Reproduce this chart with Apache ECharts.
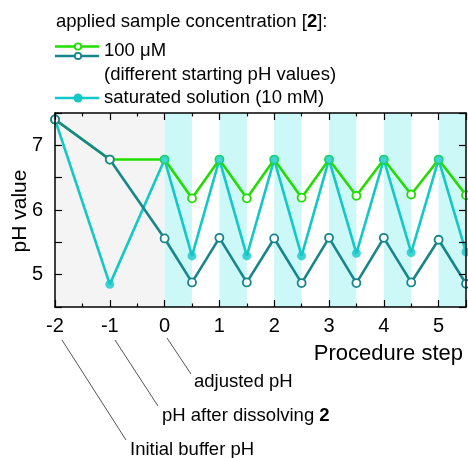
<!DOCTYPE html>
<html>
<head>
<meta charset="utf-8">
<script src="https://cdn.jsdelivr.net/npm/echarts@6/dist/echarts.min.js"></script>
<style>
  html, body { margin: 0; padding: 0; background: #fff; }
  #chart { width: 468px; height: 458px; }
</style>
</head>
<body>
<div id="chart"></div>
<script>
// Procedure steps (x) and measured pH for each sample series
const steps = [-2, -1, 0, 0.5, 1, 1.5, 2, 2.5, 3, 3.5, 4, 4.5, 5, 5.5];
const ph100uM = [7.4, 6.78, 6.78, 6.18, 6.78, 6.18, 6.78, 6.19, 6.78, 6.22, 6.78, 6.24, 6.78, 6.23];
const ph100uMLow = [7.4, 6.78, 5.56, 4.88, 5.57, 4.88, 5.56, 4.87, 5.57, 4.87, 5.57, 4.88, 5.54, 4.86];
const phSaturated = [7.4, 4.85, 6.78, 5.29, 6.78, 5.29, 6.78, 5.29, 6.78, 5.33, 6.78, 5.34, 6.78, 5.35];

// Shaded procedure intervals
const preparationSpan = [-2, 0];
const shadedStarts = [0, 1, 2, 3, 4, 5];
const shadedWidth = 0.5;

const GREEN = '#22dd00';
const TEAL = '#17868a';
const CYAN = '#14c8c8';
const FONT = 'Liberation Sans, Arial, sans-serif';

const pairs = (ys) => steps.map((x, i) => [x, ys[i]]);

const bands = [[{ xAxis: preparationSpan[0], itemStyle: { color: '#f4f4f4' } }, { xAxis: preparationSpan[1] }]]
  .concat(shadedStarts.map(s => [{ xAxis: s, itemStyle: { color: '#ccf8f8' } }, { xAxis: s + shadedWidth }]));

const chart = echarts.init(document.getElementById('chart'), null, { renderer: 'canvas' });

const xBase = {
  type: 'value', min: -2, max: 5.5, interval: 1, z: 10,
  axisLine: { show: true, onZero: false, lineStyle: { color: '#000', width: 1.5 } },
  axisTick: { show: true, inside: true, length: 7, lineStyle: { color: '#000', width: 1.2 } },
  minorTick: { show: true, splitNumber: 2, length: 3.5, lineStyle: { color: '#000', width: 1.2 } },
  splitLine: { show: false }, minorSplitLine: { show: false }
};
const yBase = {
  type: 'value', min: 4.5, max: 7.5, interval: 0.5, z: 10,
  axisLine: { show: true, onZero: false, lineStyle: { color: '#000', width: 1.5 } },
  axisTick: { show: true, inside: true, length: 7, lineStyle: { color: '#000', width: 1.2 } },
  splitLine: { show: false }
};

const option = {
  animation: false,
  backgroundColor: '#fff',
  grid: { left: 55, right: 2, top: 113, bottom: 151, containLabel: false, outerBoundsMode: 'none' },
  xAxis: [
    Object.assign({}, xBase, {
      position: 'bottom',
      axisLabel: {
        show: true, fontSize: 20, fontFamily: FONT, color: '#000', margin: 9,
        showMaxLabel: false,
        formatter: v => (Number.isInteger(v) ? String(v) : '')
      }
    }),
    Object.assign({}, xBase, { position: 'top', axisLabel: { show: false } })
  ],
  yAxis: [
    Object.assign({}, yBase, {
      position: 'left',
      axisLabel: {
        show: true, fontSize: 20, fontFamily: FONT, color: '#000', margin: 12,
        formatter: v => (Number.isInteger(v) ? String(v) : '')
      }
    }),
    Object.assign({}, yBase, { position: 'right', axisLabel: { show: false } })
  ],
  series: [
    {
      type: 'line', name: 'saturated solution (10 mM)', data: pairs(phSaturated), z: 2,
      showSymbol: false, symbol: 'none',
      lineStyle: { color: CYAN, width: 2.6 },
      markArea: { silent: true, data: bands }
    },
    {
      type: 'line', name: '100 μM', data: pairs(ph100uM), z: 3,
      symbol: 'circle', symbolSize: 8, showSymbol: true,
      lineStyle: { color: GREEN, width: 2.6 },
      itemStyle: { color: '#fff', borderColor: GREEN, borderWidth: 1.8 }
    },
    {
      type: 'scatter', name: 'saturated markers', data: pairs(phSaturated), z: 4,
      symbol: 'circle', symbolSize: 9,
      itemStyle: { color: CYAN }
    },
    {
      type: 'line', name: '100 μM (different starting pH)', data: pairs(ph100uMLow), z: 5,
      symbol: 'circle', symbolSize: 8, showSymbol: true,
      lineStyle: { color: TEAL, width: 2.6 },
      itemStyle: { color: '#fff', borderColor: TEAL, borderWidth: 1.8 }
    }
  ],
  graphic: [
    // legend
    {
      type: 'text', left: 56, top: 12,
      style: {
        text: 'applied sample concentration [{b|2}]:',
        font: '18.5px ' + FONT, fill: '#000',
        rich: { b: { fontWeight: 'bold', fontSize: 18.5, fontFamily: FONT } }
      }
    },
    { type: 'line', shape: { x1: 55, y1: 46.5, x2: 99, y2: 46.5 }, style: { stroke: GREEN, lineWidth: 2.6 } },
    { type: 'circle', shape: { cx: 78, cy: 46.5, r: 3.2 }, style: { fill: '#fff', stroke: GREEN, lineWidth: 1.8 } },
    { type: 'line', shape: { x1: 55, y1: 56, x2: 99, y2: 56 }, style: { stroke: TEAL, lineWidth: 2.6 } },
    { type: 'circle', shape: { cx: 78, cy: 56, r: 3.2 }, style: { fill: '#fff', stroke: TEAL, lineWidth: 1.8 } },
    { type: 'text', left: 104, top: 41, style: { text: '100 μM', font: '18.5px ' + FONT, fill: '#000' } },
    { type: 'text', left: 104, top: 65, style: { text: '(different starting pH values)', font: '18.5px ' + FONT, fill: '#000' } },
    { type: 'line', shape: { x1: 55, y1: 98, x2: 99, y2: 98 }, style: { stroke: CYAN, lineWidth: 2.6 } },
    { type: 'circle', shape: { cx: 78, cy: 98, r: 4.5 }, style: { fill: CYAN } },
    { type: 'text', left: 104, top: 88, style: { text: 'saturated solution (10 mM)', font: '18.5px ' + FONT, fill: '#000' } },
    // axis titles
    {
      type: 'text', x: 20.5, y: 211, rotation: Math.PI / 2,
      style: { text: 'pH value', font: '21px ' + FONT, fill: '#000', align: 'center', verticalAlign: 'middle' }
    },
    {
      type: 'text', x: 463, y: 354,
      style: { text: 'Procedure step', font: '22px ' + FONT, fill: '#000', align: 'right', verticalAlign: 'middle' }
    },
    // step annotations
    { type: 'line', shape: { x1: 167, y1: 338, x2: 191, y2: 374 }, style: { stroke: '#555', lineWidth: 1 } },
    { type: 'text', left: 194, top: 372, style: { text: 'adjusted pH', font: '18.5px ' + FONT, fill: '#000' } },
    { type: 'line', shape: { x1: 115, y1: 340, x2: 158, y2: 406 }, style: { stroke: '#555', lineWidth: 1 } },
    {
      type: 'text', left: 162, top: 406,
      style: {
        text: 'pH after dissolving {b|2}', font: '18.5px ' + FONT, fill: '#000',
        rich: { b: { fontWeight: 'bold', fontSize: 18.5, fontFamily: FONT } }
      }
    },
    { type: 'line', shape: { x1: 62, y1: 340, x2: 126, y2: 440 }, style: { stroke: '#555', lineWidth: 1 } },
    { type: 'text', left: 130, top: 440, style: { text: 'Initial buffer pH', font: '18.5px ' + FONT, fill: '#000' } }
  ]
};

chart.setOption(option);
</script>
</body>
</html>
